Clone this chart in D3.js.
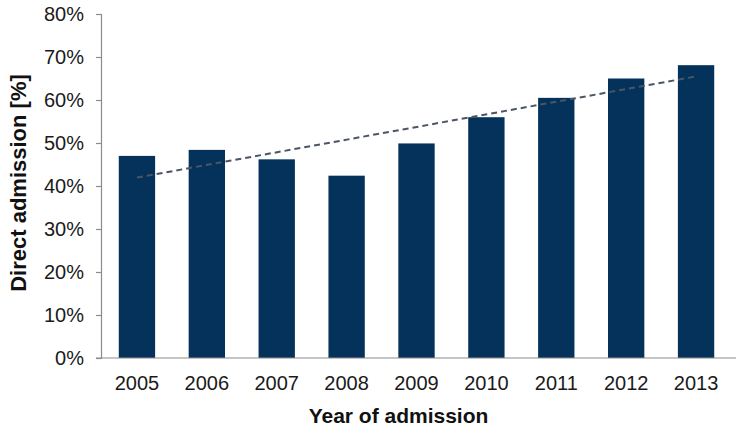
<!DOCTYPE html>
<html>
<head>
<meta charset="utf-8">
<script src="https://cdn.jsdelivr.net/npm/d3@7"></script>
<style>
  html, body { margin: 0; padding: 0; background: #fff; }
  svg { display: block; font-family: "Liberation Sans", Arial, sans-serif; }
</style>
</head>
<body>
<svg id="chart" width="741" height="434"></svg>
<script>
const years = ["2005", "2006", "2007", "2008", "2009", "2010", "2011", "2012", "2013"];
const directAdmission = [47.0, 48.4, 46.2, 42.4, 49.9, 56.0, 60.5, 65.0, 68.1];
const yTicks = [0, 10, 20, 30, 40, 50, 60, 70, 80];
const yTitle = "Direct admission [%]";
const xTitle = "Year of admission";

const svg = d3.select("#chart");
const mLeft = 101, mRight = 736, mTop = 14, mBottom = 358;

const x = d3.scaleBand().domain(years).range([mLeft + 1, mRight - 5]).paddingInner(0.48).paddingOuter(0.24);
const y = d3.scaleLinear().domain([0, 80]).range([mBottom, mTop]);

// bars
svg.append("g").selectAll("rect").data(years).join("rect")
  .attr("x", d => x(d))
  .attr("y", (d, i) => y(directAdmission[i]))
  .attr("width", x.bandwidth())
  .attr("height", (d, i) => y(0) - y(directAdmission[i]))
  .attr("fill", "#04325b");

// linear trend line (least squares of the series)
const n = directAdmission.length;
const xm = (n - 1) / 2;
const ym = d3.mean(directAdmission);
let sxy = 0, sxx = 0;
directAdmission.forEach((v, i) => { sxy += (i - xm) * (v - ym); sxx += (i - xm) * (i - xm); });
const slope = sxy / sxx, icpt = ym - slope * xm;
const trend = years.map((d, i) => [x(d) + x.bandwidth() / 2, y(icpt + slope * i)]);
svg.append("path")
  .attr("d", d3.line()([trend[0], trend[n - 1]]))
  .attr("fill", "none")
  .attr("stroke", "#4b5563")
  .attr("stroke-width", 2)
  .attr("stroke-dasharray", "6,4");

// y axis
const yAxis = d3.axisLeft(y).tickValues(yTicks).tickFormat(d => d + "%").tickSize(5).tickPadding(12);
const gy = svg.append("g").attr("transform", `translate(${mLeft},0)`).call(yAxis);
gy.select(".domain").attr("stroke", "#8c8c8c").attr("stroke-width", 1.2);
gy.selectAll(".tick line").attr("stroke", "#8c8c8c").attr("stroke-width", 1.2);
gy.selectAll(".tick text").attr("font-size", 20).attr("fill", "#1a1a1a").attr("font-family", "Liberation Sans, Arial, sans-serif");

// x axis
const xAxis = d3.axisBottom(x).tickSize(0).tickPadding(18);
const gx = svg.append("g").attr("transform", `translate(0,${mBottom})`).call(xAxis);
gx.select(".domain").attr("d", `M${mLeft - 5},0H${mRight}`).attr("stroke", "#8c8c8c").attr("stroke-width", 1.2);
gx.selectAll(".tick text").attr("font-size", 20).attr("fill", "#1a1a1a").attr("font-family", "Liberation Sans, Arial, sans-serif");

// titles
svg.append("text")
  .attr("transform", `translate(26,${(71 + 295) / 2}) rotate(-90)`)
  .attr("text-anchor", "middle")
  .attr("font-size", 22).attr("font-weight", "bold").attr("fill", "#111")
  .text(yTitle);
svg.append("text")
  .attr("x", (mLeft + mRight) / 2 - 20).attr("y", 423)
  .attr("text-anchor", "middle")
  .attr("font-size", 21).attr("font-weight", "bold").attr("fill", "#111")
  .text(xTitle);
</script>
</body>
</html>
